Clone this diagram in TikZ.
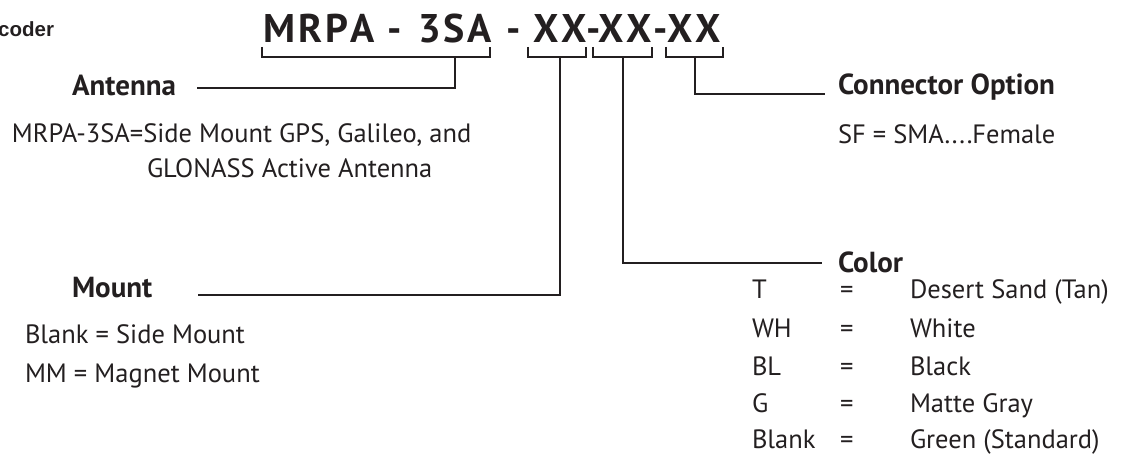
\documentclass[tikz,border=0pt]{standalone}
\usepackage{fontspec}
\setmainfont{PT Sans}
\newfontfamily\headfont{Liberation Sans}
\definecolor{ink}{RGB}{35,31,32}
\begin{document}
\begin{tikzpicture}[x=1pt,y=-1pt,
  every node/.style={inner sep=0pt, outer sep=0pt, text=ink},
  body/.style={anchor=base west, font=\fontsize{26.5}{30}\selectfont},
  lbl/.style={anchor=base west, font=\fontsize{29}{34}\selectfont\bfseries},
  ttl/.style={anchor=base west, font=\fontsize{40}{48}\selectfont\bfseries},
  lead/.style={draw=ink, line width=1.6pt},
  brk/.style={draw=ink, line width=1.6pt}]
\useasboundingbox (0,0) rectangle (1126,460);

% header fragment
\node[anchor=base east, font=\headfont\fontsize{20.5}{24}\selectfont\bfseries] (hdr) at (54,37) {coder};

% title code
\node[ttl] (t1) at (263,42) {M\kern3pt R\kern3pt P\kern3pt A};
\node[ttl] (d1) at (387,42) {-};
\node[ttl] (t2) at (418,42) {3\kern3pt S\kern3pt A};
\node[ttl] (d2) at (506,42) {-};
\node[ttl] (t3) at (533,42) {X\kern3pt X};
\node[ttl] (d3) at (586,42) {-};
\node[ttl] (t4) at (598,42) {X\kern3pt X};
\node[ttl] (d4) at (653,42) {-};
\node[ttl] (t5) at (667,42) {X\kern3pt X};

% brackets
\coordinate (b1) at (455,57);
\coordinate (b2) at (560,57);
\coordinate (b3) at (623,57);
\coordinate (b4) at (695,57);
\draw[brk] (262,47) |- (490,57) -- (490,47);
\draw[brk] (528,47) |- (586,57) -- (586,47);
\draw[brk] (593,47) |- (652,57) -- (652,47);
\draw[brk] (666,47) |- (723,57) -- (723,47);

% labels
\node[lbl] (ant) at (72,95) {Antenna};
\node[lbl] (mnt) at (72,297) {Mount};
\node[lbl] (con) at (838,94) {Connector Option};
\node[lbl] (col) at (838,272) {Color};

% leader ends
\coordinate (antE) at (197,88);
\coordinate (mntE) at (198,295);
\coordinate (conE) at (825,94);
\coordinate (colE) at (822,263);
\draw[lead] (b1) |- (antE);
\draw[lead] (b2) |- (mntE);
\draw[lead] (b3) |- (colE);
\draw[lead] (b4) |- (conE);

% descriptions
\node[body] (a1) at (12,142) {MRPA-3SA=Side Mount GPS, Galileo, and};
\node[body] (a2) at (147,177) {GLONASS Active Antenna};
\node[body] (m1) at (25,343) {Blank = Side Mount};
\node[body] (m2) at (25,382) {MM = Magnet Mount};
\node[body] (c1) at (838,143) {SF = SMA....Female};

% color table
\node[body] (k1) at (752,298) {T};
\node[body] (e1) at (840,298) {=};
\node[body] (v1) at (910,298) {Desert Sand (Tan)};
\node[body] (k2) at (752,337) {WH};
\node[body] (e2) at (840,337) {=};
\node[body] (v2) at (910,337) {White};
\node[body] (k3) at (752,375) {BL};
\node[body] (e3) at (840,375) {=};
\node[body] (v3) at (910,375) {Black};
\node[body] (k4) at (752,412) {G};
\node[body] (e4) at (840,412) {=};
\node[body] (v4) at (910,412) {Matte Gray};
\node[body] (k5) at (752,448) {Blank};
\node[body] (e5) at (840,448) {=};
\node[body] (v5) at (910,448) {Green (Standard)};
\end{tikzpicture}
\end{document}
